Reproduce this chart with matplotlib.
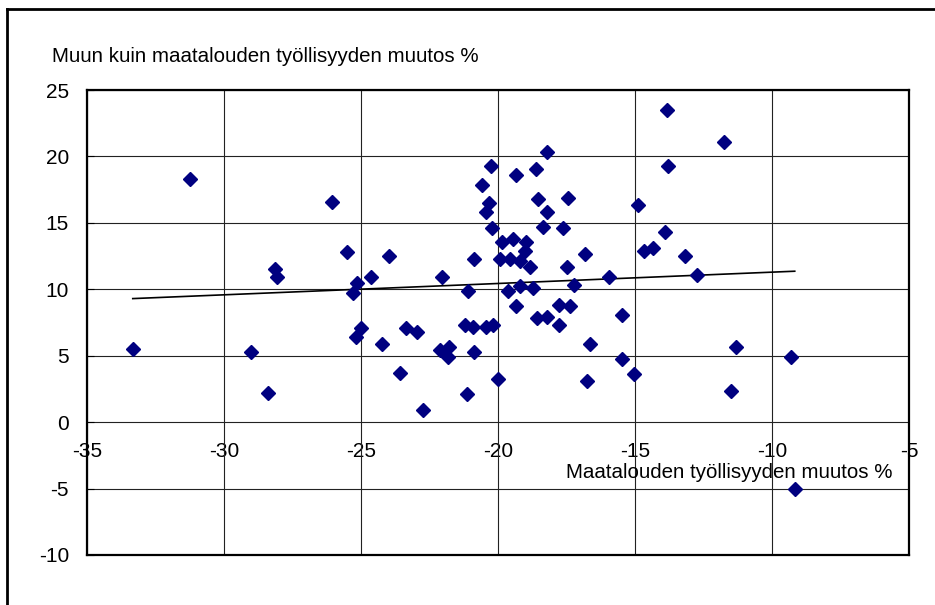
import matplotlib
matplotlib.use("Agg")
import matplotlib.pyplot as plt
import numpy as np
from matplotlib.lines import Line2D

plt.rcParams['font.family'] = ['Liberation Sans', 'DejaVu Sans']
plt.rcParams['axes.unicode_minus'] = False

# maatalouden työllisyyden muutos % (x) ja muun kuin maatalouden muutos % (y)
agri_change = [-33.33, -31.25, -29.02, -28.39, -28.15, -28.08, -26.06, -25.50,
               -25.31, -25.13, -25.20, -25.01, -24.65, -24.25, -23.96, -23.59,
               -23.35, -22.96, -22.73, -22.13, -22.06, -21.79, -21.81, -21.21,
               -21.14, -21.09, -20.92, -20.89, -20.88, -20.58, -20.45, -20.43,
               -20.32, -20.26, -20.21, -20.19, -20.00, -19.91, -19.85, -19.64,
               -19.58, -19.46, -19.34, -19.34, -19.21, -19.21, -19.03, -18.97,
               -18.85, -18.73, -18.60, -18.59, -18.53, -18.37, -18.22, -18.22,
               -18.22, -17.76, -17.76, -17.61, -17.49, -17.43, -17.37, -17.23,
               -16.82, -16.75, -16.63, -15.96, -15.46, -15.46, -15.02, -14.90,
               -14.66, -14.33, -13.90, -13.84, -13.78, -13.16, -12.74, -11.74,
               -11.51, -11.33, -9.29, -9.17]
other_change = [5.51, 18.28, 5.26, 2.22, 11.53, 10.95, 16.60, 12.79,
                9.70, 10.50, 6.39, 7.07, 10.90, 5.90, 12.53, 3.73,
                7.07, 6.82, 0.94, 5.41, 10.91, 5.66, 4.89, 7.32,
                2.10, 9.85, 7.19, 12.28, 5.29, 17.88, 15.82, 7.19,
                16.50, 19.28, 14.59, 7.32, 3.25, 12.28, 13.54, 9.85,
                12.28, 13.81, 18.63, 8.72, 12.13, 10.25, 12.91, 13.56,
                11.66, 10.10, 19.03, 7.82, 16.78, 14.72, 20.31, 15.85,
                7.95, 8.85, 7.32, 14.59, 11.66, 16.87, 8.72, 10.35,
                12.68, 3.13, 5.91, 10.95, 8.10, 4.76, 3.63, 16.35,
                12.91, 13.09, 14.32, 23.50, 19.28, 12.53, 11.08, 21.06,
                2.35, 5.64, 4.91, -5.02]

x_ticks = [-35, -30, -25, -20, -15, -10, -5]
y_ticks = [-10, -5, 0, 5, 10, 15, 20, 25]

fig = plt.figure(figsize=(9.35, 6.05), dpi=100)
ax = fig.add_axes([87/935, 50/605, 822/935, 465/605])

ax.plot(agri_change, other_change, 'D', color='#000080', ms=7.5, zorder=3,
        clip_on=False)

# lineaarinen trendi
fit = np.polyfit(agri_change, other_change, 1)
xs = np.array([min(agri_change), max(agri_change)])
ax.plot(xs, np.polyval(fit, xs), color='black', lw=1.2, zorder=2)

ax.set_xlim(-35, -5)
ax.set_ylim(-10, 25)
ax.set_xticks(x_ticks)
ax.set_yticks(y_ticks)
ax.grid(True, color='#222222', lw=0.8)
ax.set_axisbelow(True)
for s in ax.spines.values():
    s.set_linewidth(1.6)
ax.tick_params(axis='x', bottom=False, labelbottom=False)
ax.tick_params(axis='y', direction='in', length=5, pad=13, labelsize=15)

sec = ax.secondary_xaxis(10/35)
sec.set_xticks(x_ticks)
sec.tick_params(length=0, pad=14, labelsize=15)
sec.spines['bottom'].set_visible(False)

fig.text(52/935, 1 - 57/605, 'Muun kuin maatalouden työllisyyden muutos %',
         fontsize=14.8, ha='left', va='center')
ax.text(0.9805, 0.1775, 'Maatalouden työllisyyden muutos %',
        transform=ax.transAxes, fontsize=14.8, ha='right', va='center')

# kehys
fig.add_artist(Line2D([7/935, 7/935], [0, 1 - 9/605], transform=fig.transFigure,
                      color='black', lw=2))
fig.add_artist(Line2D([7/935, 1], [1 - 9/605, 1 - 9/605], transform=fig.transFigure,
                      color='black', lw=2))

fig.savefig('out.png', dpi=100)
